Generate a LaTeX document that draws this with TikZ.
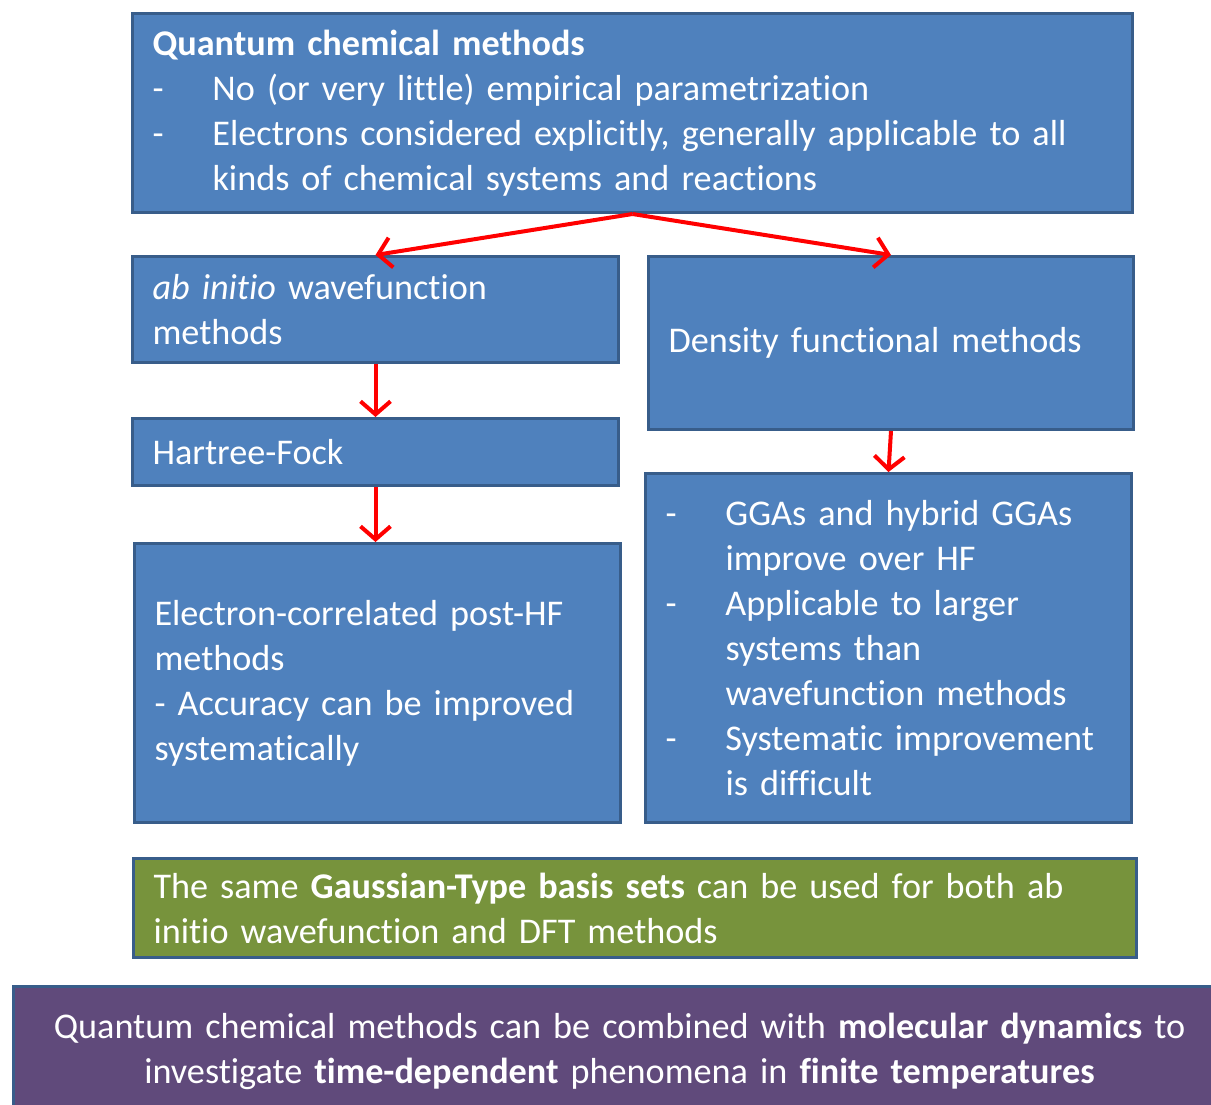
\documentclass[tikz,border=0pt]{standalone}
\usepackage{fontspec}
\setmainfont[Ligatures=NoCommon]{Carlito}
\usetikzlibrary{arrows.meta}
\definecolor{boxblue}{HTML}{4F81BD}
\definecolor{boxedge}{HTML}{385D8A}
\definecolor{boxgreen}{HTML}{77933C}
\definecolor{boxpurple}{HTML}{604A7B}
\definecolor{arrowred}{HTML}{FF0000}
\newcommand{\dashitem}{\makebox[60pt][l]{-}}
\newcommand{\contitem}{\makebox[60pt][l]{}}
\begin{document}
\begin{tikzpicture}[x=1pt,y=-1pt,
  box/.style={rectangle, draw=boxedge, line width=3pt, fill=boxblue, text=white,
    inner xsep=20pt, inner ysep=0pt, align=left, anchor=north west,
    font=\fontsize{36.2}{45}\selectfont},
  conn/.style={draw=arrowred, line width=4pt,
    -{Straight Barb[length=13pt,width=30pt,line width=4pt]}}
]
\clip (0,0) rectangle (1211,1104);
\fill[white] (0,0) rectangle (1211,1104);

\node[box, minimum width=1000pt, minimum height=199pt, text width=960pt] (top) at (131,12)
  {\textbf{Quantum chemical methods}\\
   \dashitem No (or very little) empirical parametrization\\
   \dashitem Electrons considered explicitly, generally applicable to all\\
   \contitem kinds of chemical systems and reactions};

\node[box, minimum width=486pt, minimum height=106pt, text width=446pt] (abinit) at (131,255)
  {\textit{ab initio} wavefunction\\methods};

\node[box, minimum width=485pt, minimum height=173pt, text width=445pt] (dft) at (647,255)
  {Density functional methods};

\node[box, minimum width=486pt, minimum height=67pt, text width=446pt] (hf) at (131,417)
  {Hartree-Fock};

\node[box, minimum width=486pt, minimum height=279pt, text width=446pt] (posthf) at (133,542)
  {Electron-correlated post-HF\\methods\\- Accuracy can be improved\\systematically};

\node[box, minimum width=486pt, minimum height=349pt, text width=446pt] (dftlist) at (644,472)
  {\dashitem GGAs and hybrid GGAs\\
   \contitem improve over HF\\
   \dashitem Applicable to larger\\
   \contitem systems than\\
   \contitem wavefunction methods\\
   \dashitem Systematic improvement\\
   \contitem is difficult};

\node[box, fill=boxgreen, minimum width=1003pt, minimum height=99pt, text width=963pt] (basis) at (132,857)
  {The same \textbf{Gaussian-Type basis sets} can be used for both ab\\initio wavefunction and DFT methods};

\node[box, fill=boxpurple, align=center, minimum width=1212pt, minimum height=130pt, text width=1172pt] (md) at (12,985)
  {Quantum chemical methods can be combined with \textbf{molecular dynamics} to\\investigate \textbf{time-dependent} phenomena in \textbf{finite temperatures}};

\draw[conn] (top.south) -- (abinit.north);
\draw[conn] (top.south) -- (dft.north);
\draw[conn] (abinit.south) -- (hf.north);
\draw[conn] (hf.south) -- (hf.south |- posthf.north);
\draw[conn] (dft.south) -- (dftlist.north);
\end{tikzpicture}
\end{document}
